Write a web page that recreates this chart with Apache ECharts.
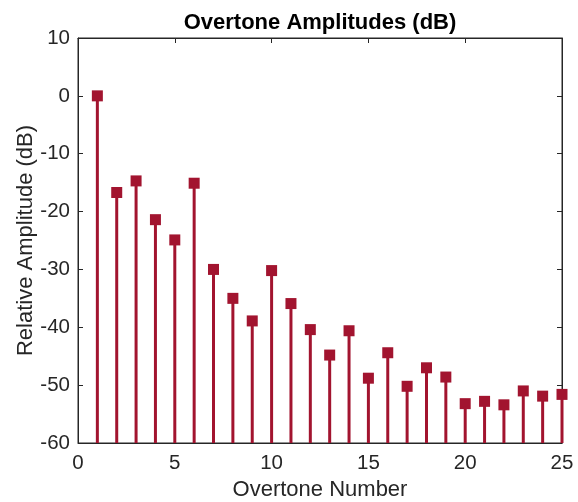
<!DOCTYPE html>
<html>
<head>
    <meta charset="utf-8">
    <title>Overtone Amplitudes</title>
    <script src="https://cdn.jsdelivr.net/npm/echarts@6/dist/echarts.min.js"></script>
</head>
<body style="margin:0;background:#fff;">
    <div id="main" style="width:578px;height:502px;"></div>
    <script type="text/javascript">
// overtone numbers and their relative amplitude (dB)
var overtones = [1, 2, 3, 4, 5, 6, 7, 8, 9, 10, 11, 12, 13, 14, 15, 16, 17, 18, 19, 20, 21, 22, 23, 24, 25];
var amplitudes = [0, -16.7, -14.7, -21.4, -24.9, -15.1, -30.0, -35.0, -38.9, -30.2, -35.9, -40.4, -44.8, -40.6, -48.8,
                  -44.4, -50.2, -47.0, -48.6, -53.2, -52.8, -53.4, -51.0, -51.9, -51.6];
var xTicks = [0, 5, 10, 15, 20, 25];
var yTicks = [-60, -50, -40, -30, -20, -10, 0, 10];
var stemBase = -60;

var points = overtones.map(function (n, i) { return [n, amplitudes[i]]; });

var myChart = echarts.init(document.getElementById('main'));
var axisColor = '#262626';
var font = 'Liberation Sans, Arial, Helvetica, sans-serif';

var tickStyle = { show: true, inside: true, length: 5, lineStyle: { color: axisColor, width: 1 } };

option = {
    backgroundColor: '#fff',
    animation: false,
    title: {
        text: 'Overtone Amplitudes (dB)',
        left: 315, top: 7, textAlign: 'center',
        textStyle: { fontFamily: font, fontSize: 22, fontWeight: 'bold', color: '#000' }
    },
    grid: {
        left: 78, right: 16, top: 38, bottom: 59,
        outerBoundsMode: 'none', containLabel: false,
        show: true, borderColor: axisColor, borderWidth: 1, backgroundColor: '#fff'
    },
    xAxis: [{
        type: 'value', min: xTicks[0], max: xTicks[xTicks.length - 1], interval: 5,
        name: 'Overtone Number', nameLocation: 'middle', nameGap: 36,
        nameTextStyle: { fontFamily: font, fontSize: 22, color: axisColor },
        axisLine: { show: true, onZero: false, lineStyle: { color: axisColor } },
        axisTick: tickStyle,
        splitLine: { show: false },
        axisLabel: { fontFamily: font, fontSize: 20.5, color: axisColor, margin: 10 }
    }, {
        type: 'value', min: xTicks[0], max: xTicks[xTicks.length - 1], interval: 5, position: 'top',
        axisLine: { show: true, onZero: false, lineStyle: { color: axisColor } },
        axisTick: tickStyle, axisLabel: { show: false }, splitLine: { show: false }
    }],
    yAxis: [{
        type: 'value', min: yTicks[0], max: yTicks[yTicks.length - 1], interval: 10,
        name: 'Relative Amplitude (dB)', nameLocation: 'middle', nameGap: 41, nameMoveOverlap: false,
        nameTextStyle: { fontFamily: font, fontSize: 22, color: axisColor },
        axisLine: { show: true, onZero: false, lineStyle: { color: axisColor } },
        axisTick: tickStyle,
        splitLine: { show: false },
        axisLabel: { fontFamily: font, fontSize: 20.5, color: axisColor, margin: 8 }
    }, {
        type: 'value', min: yTicks[0], max: yTicks[yTicks.length - 1], interval: 10, position: 'right',
        axisLine: { show: true, onZero: false, lineStyle: { color: axisColor } },
        axisTick: tickStyle, axisLabel: { show: false }, splitLine: { show: false }
    }],
    series: [{
        // stems from the bottom of the axis up to each amplitude
        type: 'custom',
        data: points,
        renderItem: function (params, api) {
            var top = api.coord([api.value(0), api.value(1)]);
            var bottom = api.coord([api.value(0), stemBase]);
            return {
                type: 'line',
                shape: { x1: bottom[0], y1: bottom[1], x2: top[0], y2: top[1] },
                style: { stroke: '#A2142F', lineWidth: 3 }
            };
        },
        z: 2
    }, {
        type: 'scatter',
        data: points,
        symbol: 'rect',
        symbolSize: 11,
        itemStyle: { color: '#A2142F', opacity: 1 },
        z: 3
    }]
};

myChart.setOption(option);
    </script>
</body>
</html>
